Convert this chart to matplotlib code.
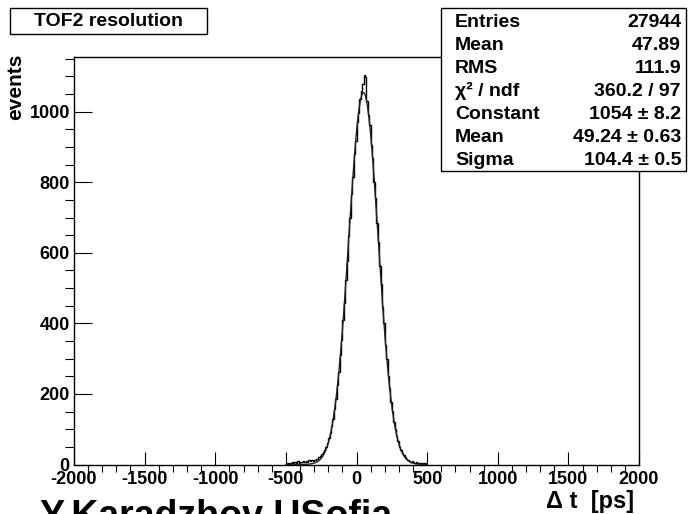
import numpy as np
import matplotlib
matplotlib.use("Agg")
import matplotlib.pyplot as plt
from matplotlib.ticker import MultipleLocator
from matplotlib.patches import Rectangle

plt.rcParams['font.family'] = ['Liberation Sans', 'DejaVu Sans']
plt.rcParams['font.weight'] = 'bold'
plt.rcParams['axes.unicode_minus'] = False

# ---------------- data ----------------
n_bins = 100
x_min = -500
x_max = 500
counts = [
    3, 5, 2, 4, 7, 3, 6, 4, 9, 5,
    8, 6, 10, 7, 9, 8, 12, 10, 14, 11,
    13, 16, 15, 22, 24, 31, 36, 42, 51, 62,
    74, 90, 108, 130, 158, 186, 225, 262, 310, 352,
    410, 458, 524, 578, 648, 700, 768, 815, 880, 918,
    972, 995, 1035, 1060, 1078, 1104, 1098, 1030, 990, 962,
    905, 868, 802, 755, 684, 632, 562, 512, 446, 400,
    340, 300, 250, 218, 178, 152, 120, 100, 80, 66,
    50, 42, 33, 26, 20, 17, 12, 10, 8, 9,
    6, 5, 7, 4, 5, 3, 4, 2, 3, 1,
]
fit_constant = 1054
fit_mean = 49.24
fit_sigma = 104.4

title_text = "TOF2 resolution"
stat_labels = ["Entries", "Mean", "RMS", "χ² / ndf", "Constant", "Mean", "Sigma"]
stat_values = ["27944", "47.89", "111.9", "360.2 / 97", "1054 ± 8.2", "49.24 ± 0.63", "104.4 ± 0.5"]
x_label = "Δ t  [ps]"
y_label = "events"
author_text = "Y.Karadzhov USofia"

# ---------------- figure ----------------
W, H = 688, 514
fig = plt.figure(figsize=(W / 100, H / 100), dpi=100)
fig.patch.set_facecolor('white')

def fx(px):
    return px / W

def fy(py):
    return 1 - py / H

ax_l, ax_r, ax_t, ax_b = 74, 639, 57, 464.5
ax = fig.add_axes([fx(ax_l), fy(ax_b), fx(ax_r - ax_l), (ax_b - ax_t) / H])

edges = np.linspace(x_min, x_max, n_bins + 1)
ax.stairs(counts, edges, color='black', lw=1.0)

xf = np.linspace(x_min, x_max, 1000)
yf = fit_constant * np.exp(-0.5 * ((xf - fit_mean) / fit_sigma) ** 2)
ax.plot(xf, yf, color='#222222', lw=1.0)

ax.set_xlim(-2000, 2000)
ax.set_ylim(0, 1155)
ax.xaxis.set_major_locator(MultipleLocator(500))
ax.xaxis.set_minor_locator(MultipleLocator(100))
ax.yaxis.set_major_locator(MultipleLocator(200))
ax.yaxis.set_minor_locator(MultipleLocator(50))
ax.tick_params(direction='in', top=False, right=False, colors='black')
ax.tick_params(axis='x', which='major', length=9.4, width=0.8, pad=5, labelsize=13)
ax.tick_params(axis='x', which='minor', length=5, width=0.8)
ax.tick_params(axis='y', which='major', length=12.7, width=0.8, pad=3, labelsize=13)
ax.tick_params(axis='y', which='minor', length=6.5, width=0.8)
for lab in ax.get_xticklabels() + ax.get_yticklabels():
    lab.set_fontweight('bold')
for sp in ax.spines.values():
    sp.set_linewidth(1.0)
    sp.set_color('black')

# y label
fig.text(fx(16), fy(54), y_label, rotation=90, ha='center', va='top',
         fontsize=15, fontweight='bold')

# title box
fig.add_artist(Rectangle((fx(10), fy(34)), fx(197), 26 / H, transform=fig.transFigure,
                         facecolor='white', edgecolor='black', lw=1.0, zorder=5))
fig.text(fx(108.5), fy(21), title_text, ha='center', va='center',
         fontsize=14, fontweight='bold', zorder=6)

# stats box
fig.add_artist(Rectangle((fx(441), fy(171)), fx(245), 163 / H, transform=fig.transFigure,
                         facecolor='white', edgecolor='black', lw=1.0, zorder=5))
for i, (lab, val) in enumerate(zip(stat_labels, stat_values)):
    yb = 27 + 23 * i
    fig.text(fx(455), fy(yb), lab, ha='left', va='baseline', fontsize=14,
             fontweight='bold', zorder=6)
    fig.text(fx(681), fy(yb), val, ha='right', va='baseline', fontsize=14,
             fontweight='bold', zorder=6)

# x label
fig.text(fx(634), fy(508), x_label, ha='right', va='baseline', fontsize=17,
         fontweight='bold')

# author (cut by the lower edge, as in the reference)
fig.text(fx(40), fy(527), author_text, ha='left', va='baseline', fontsize=27,
         fontweight='bold')

fig.savefig("out.png", dpi=100)
